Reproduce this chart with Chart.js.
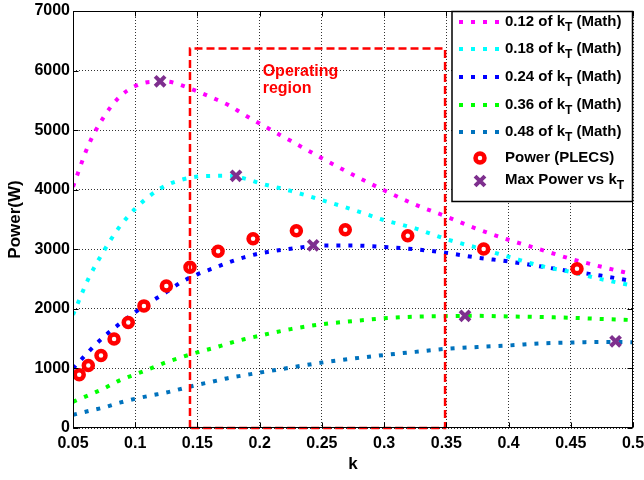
<!DOCTYPE html>
<html><head><meta charset="utf-8">
<script src="https://cdn.jsdelivr.net/npm/chart.js@4/dist/chart.umd.min.js"></script>
<style>html,body{margin:0;padding:0;background:#fff;}#wrap{width:644px;height:480px;position:relative;}</style>
</head><body><div id="wrap"><canvas id="c" width="644" height="480"></canvas></div>
<script>
// ---- data ----
const kGrid = [0.05,0.0625,0.075,0.0875,0.1,0.1125,0.125,0.1375,0.15,0.1625,0.175,0.1875,0.2,0.225,0.25,0.275,0.3,0.325,0.35,0.375,0.4,0.425,0.45,0.475,0.5];
const p012 = [4050,4750,5230,5560,5740,5810,5815,5750,5650,5540,5420,5260,5110,4820,4530,4250,3990,3750,3550,3340,3160,3000,2840,2705,2580];
const p018 = [1900,2510,2980,3380,3680,3910,4075,4170,4220,4232,4235,4190,4110,3980,3825,3665,3490,3350,3170,3025,2875,2725,2620,2495,2390];
const p024 = [1000,1280,1535,1750,1945,2120,2280,2455,2580,2680,2780,2865,2930,3010,3062,3062,3040,3000,2940,2860,2795,2715,2630,2555,2465];
const p036 = [440,550,665,800,900,1000,1105,1190,1270,1340,1420,1490,1550,1660,1742,1795,1842,1868,1878,1883,1872,1863,1850,1830,1812];
const p048 = [220,285,345,425,490,545,595,660,725,780,840,885,930,1015,1098,1165,1225,1278,1330,1360,1385,1420,1435,1445,1440];
const plecsK = [0.055,0.0623,0.0725,0.083,0.0944,0.107,0.125,0.144,0.1666,0.1947,0.2295,0.2688,0.319,0.38,0.455];
const plecsP = [895,1050,1217,1495,1772,2050,2383,2700,2967,3178,3312,3328,3228,3005,2672];
const maxK = [0.12,0.181,0.243,0.365,0.486];
const maxP = [5820,4233,3067,1883,1455];
const xTicks = [0.05,0.1,0.15,0.2,0.25,0.3,0.35,0.4,0.45,0.5];
const xTickLabels = ['0.05','0.1','0.15','0.2','0.25','0.3','0.35','0.4','0.45','0.5'];
const yTicks = [0,1000,2000,3000,4000,5000,6000,7000];
const kTFractions = ['0.12','0.18','0.24','0.36','0.48'];
const plecsName = 'Power (PLECS)';
const maxName = 'Max Power vs k';
const regionK = [0.144,0.349];
const regionP = [0,6370];
const regionLabel = ['Operating','region'];
const xTitle = 'k';
const yTitle = 'Power(W)';

// ---- styles ----
const curveColors = ['#ff00ff','#00ffff','#0000ff','#00ff00','#0072bd'];
const curveData = [p012,p018,p024,p036,p048];
const DASH = [4,8];
const FONT = '"Liberation Sans", Arial, sans-serif';

const toXY = (xs, ys) => xs.map((x,i)=>({x:x,y:ys[i]}));

const datasets = curveData.map((arr,i)=>({
  label: kTFractions[i] + ' of kT (Math)',
  data: toXY(kGrid, arr),
  borderColor: curveColors[i],
  backgroundColor: curveColors[i],
  borderWidth: 4,
  borderDash: DASH,
  borderCapStyle: 'butt',
  pointRadius: 0,
  cubicInterpolationMode: 'monotone',
  fill: false,
  order: 2 + i
}));
datasets.push({
  label: plecsName,
  data: toXY(plecsK, plecsP),
  showLine: false,
  pointStyle: 'circle',
  pointRadius: 4.5,
  pointBorderWidth: 4.5,
  pointBorderColor: '#ff0000',
  pointBackgroundColor: '#ffffff',
  borderColor: '#ff0000',
  backgroundColor: '#ffffff',
  order: 1
});
datasets.push({
  label: maxName,
  data: toXY(maxK, maxP),
  showLine: false,
  pointStyle: 'crossRot',
  pointRadius: 7,
  pointBorderWidth: 4,
  pointBorderColor: '#7e2f8e',
  borderColor: '#7e2f8e',
  order: 0
});

const overlay = {
  id: 'overlay',
  afterDatasetsDraw(chart) {
    const ctx = chart.ctx, a = chart.chartArea;
    const xs = chart.scales.x, ys = chart.scales.y;
    // operating region
    ctx.save();
    ctx.strokeStyle = '#ff0000';
    ctx.lineWidth = 2.5;
    ctx.setLineDash([8,4]);
    const rx1 = xs.getPixelForValue(regionK[0]), rx2 = xs.getPixelForValue(regionK[1]);
    const ry1 = ys.getPixelForValue(regionP[1]), ry2 = ys.getPixelForValue(regionP[0]);
    ctx.beginPath();
    ctx.moveTo(rx1, ry2); ctx.lineTo(rx1, ry1); ctx.lineTo(rx2, ry1); ctx.lineTo(rx2, ry2); ctx.lineTo(rx1, ry2);
    ctx.stroke();
    ctx.setLineDash([]);
    ctx.fillStyle = '#ff0000';
    ctx.font = 'bold 16px ' + FONT;
    ctx.textBaseline = 'alphabetic';
    ctx.textAlign = 'left';
    const tx = xs.getPixelForValue(0.2) + 3;
    const ty = ys.getPixelForValue(6000) + 5;
    regionLabel.forEach((t,i)=>ctx.fillText(t, tx, ty + i*17));
    ctx.restore();

    // frame + inward ticks
    ctx.save();
    ctx.strokeStyle = '#000';
    ctx.lineWidth = 1;
    const L = Math.round(a.left)+0.5, R = Math.round(a.right)-0.5, T = Math.round(a.top)+0.5, B = Math.round(a.bottom)-0.5;
    ctx.strokeRect(L, T, R-L, B-T);
    ctx.beginPath();
    xTicks.forEach(v=>{
      const px = Math.round(xs.getPixelForValue(v))+0.5;
      ctx.moveTo(px, B); ctx.lineTo(px, B-5);
      ctx.moveTo(px, T); ctx.lineTo(px, T+5);
    });
    yTicks.forEach(v=>{
      const py = Math.round(ys.getPixelForValue(v))+0.5;
      ctx.moveTo(L, py); ctx.lineTo(L+5, py);
      ctx.moveTo(R, py); ctx.lineTo(R-5, py);
    });
    ctx.stroke();
    ctx.restore();

    // legend
    ctx.save();
    const lx = 452, ly = Math.round(a.top)+0.5, lw = R - lx, lh = 190;
    ctx.fillStyle = '#fff';
    ctx.fillRect(lx, ly, lw, lh);
    ctx.strokeStyle = '#000';
    ctx.lineWidth = 1.5;
    ctx.strokeRect(lx, ly, lw, lh);
    const rows = [22,49,77,105,132];
    const textX = 505;
    ctx.textBaseline = 'middle';
    ctx.textAlign = 'left';
    kTFractions.forEach((f,i)=>{
      const y = rows[i];
      ctx.strokeStyle = curveColors[i];
      ctx.lineWidth = 4;
      ctx.setLineDash(DASH);
      ctx.lineCap = 'butt';
      ctx.beginPath(); ctx.moveTo(459, y); ctx.lineTo(501, y); ctx.stroke();
      ctx.setLineDash([]);
      ctx.fillStyle = '#000';
      ctx.font = 'bold 15px ' + FONT;
      const main = f + ' of k';
      ctx.fillText(main, textX, y);
      let x = textX + ctx.measureText(main).width;
      ctx.font = 'bold 12px ' + FONT;
      ctx.fillText('T', x, y + 6);
      x += ctx.measureText('T').width;
      ctx.font = 'bold 15px ' + FONT;
      ctx.fillText(' (Math)', x, y);
    });
    // PLECS marker
    ctx.beginPath();
    ctx.arc(480, 158, 4.5, 0, Math.PI*2);
    ctx.fillStyle = '#fff'; ctx.fill();
    ctx.strokeStyle = '#ff0000'; ctx.lineWidth = 4.5; ctx.stroke();
    ctx.fillStyle = '#000';
    ctx.font = 'bold 15px ' + FONT;
    ctx.fillText(plecsName, textX, 158);
    // Max marker
    ctx.strokeStyle = '#7e2f8e'; ctx.lineWidth = 4;
    const d = 7*Math.SQRT1_2;
    ctx.beginPath();
    ctx.moveTo(480-d, 181-d); ctx.lineTo(480+d, 181+d);
    ctx.moveTo(480+d, 181-d); ctx.lineTo(480-d, 181+d);
    ctx.stroke();
    ctx.fillStyle = '#000';
    ctx.fillText(maxName, textX, 180);
    let mx = textX + ctx.measureText(maxName).width;
    ctx.font = 'bold 12px ' + FONT;
    ctx.fillText('T', mx, 186);
    ctx.restore();
  }
};

new Chart(document.getElementById('c'), {
  type: 'line',
  data: { datasets: datasets },
  options: {
    responsive: false,
    animation: false,
    devicePixelRatio: 1,
    layout: { padding: { top: 7, right: 10, left: 0, bottom: 0 } },
    plugins: { legend: { display: false }, tooltip: { enabled: false } },
    scales: {
      x: {
        type: 'linear',
        min: 0.05, max: 0.5,
        afterBuildTicks: s => { s.ticks = xTicks.map(v=>({value:v})); },
        afterFit: s => { s.height = 52; s.paddingLeft = 0; s.paddingRight = 0; },
        ticks: {
          autoSkip: false, maxRotation: 0, padding: 6, color: '#000',
          font: { family: FONT, size: 16, weight: 'bold' },
          callback: (v) => { const i = xTicks.findIndex(t=>Math.abs(t-v)<1e-9); return i>=0 ? xTickLabels[i] : ''; }
        },
        grid: { color: 'rgba(0,0,0,0.8)', lineWidth: 1, drawTicks: false },
        border: { display: false, dash: [1,2] },
        title: { display: true, text: xTitle, color: '#000', font: { family: FONT, size: 17, weight: 'bold' }, padding: { top: 0, bottom: 5 } }
      },
      y: {
        type: 'linear',
        min: 0, max: 7000,
        afterBuildTicks: s => { s.ticks = yTicks.map(v=>({value:v})); },
        afterFit: s => { s.width = 73; s.paddingTop = 0; s.paddingBottom = 0; },
        ticks: {
          autoSkip: false, padding: 3, color: '#000',
          font: { family: FONT, size: 16, weight: 'bold' },
          callback: v => String(v)
        },
        grid: { color: 'rgba(0,0,0,0.8)', lineWidth: 1, drawTicks: false },
        border: { display: false, dash: [1,2] },
        title: { display: true, text: yTitle, color: '#000', font: { family: FONT, size: 17, weight: 'bold' }, padding: { top: 5, bottom: 0 } }
      }
    }
  },
  plugins: [overlay]
});
</script>
</body></html>
